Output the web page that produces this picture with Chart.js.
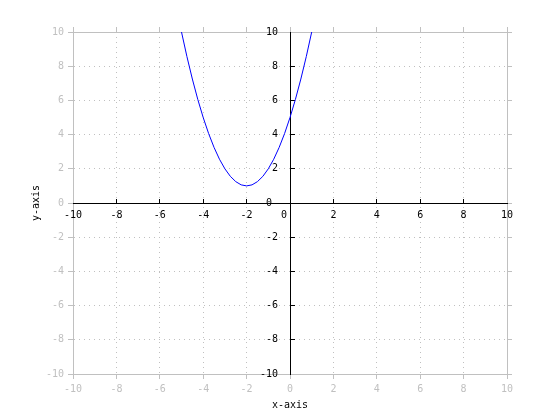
<!DOCTYPE html>
<html>
<head>
<meta charset="utf-8">
<script src="https://cdn.jsdelivr.net/npm/chart.js@4"></script>
<style>
  html, body { margin: 0; padding: 0; background: #fff; }
  #wrap { width: 560px; height: 420px; }
</style>
</head>
<body>
<div id="wrap"><canvas id="curveChart"></canvas></div>
<script>
// Values
const xValues = [-5, -4.75, -4.5, -4.25, -4, -3.75, -3.5, -3.25, -3, -2.75, -2.5, -2.25, -2,
                 -1.75, -1.5, -1.25, -1, -0.75, -0.5, -0.25, 0, 0.25, 0.5, 0.75, 1];
const yValues = [10, 8.56, 7.25, 6.06, 5, 4.06, 3.25, 2.56, 2, 1.56, 1.25, 1.06, 1,
                 1.06, 1.25, 1.56, 2, 2.56, 3.25, 4.06, 5, 6.06, 7.25, 8.56, 10];
const axisMin = -10;
const axisMax = 10;
const tickStep = 2;
const xTitle = "x-axis";
const yTitle = "y-axis";

const grey = "#c0c0c0";
const font = { family: "DejaVu Sans Mono", size: 10 };

const points = xValues.map((x, i) => ({ x: x, y: yValues[i] }));

// Grey frame axes (outside ticks) and black zero axes (inside ticks)
function frameAxis(axis, position, size, extra) {
    return Object.assign({
        type: "linear",
        axis: axis,
        position: position,
        min: axisMin,
        max: axisMax,
        ticks: { stepSize: tickStep, display: false },
        grid: { drawOnChartArea: false, drawTicks: true, tickLength: 5, color: grey },
        border: { display: true, color: grey, width: 1 },
        afterFit: scale => {
            if (scale.isHorizontal()) scale.height = size; else scale.width = size;
        }
    }, extra);
}

new Chart(document.getElementById("curveChart").getContext("2d"), {
    type: "scatter",
    data: {
        datasets: [{
            data: points,
            showLine: true,
            borderColor: "#0000ff",
            borderWidth: 1,
            pointRadius: 0,
            tension: 0,
            xAxisID: "x",
            yAxisID: "y"
        }]
    },
    options: {
        responsive: true,
        maintainAspectRatio: false,
        animation: false,
        layout: { padding: 0 },
        plugins: { legend: { display: false }, tooltip: { enabled: false } },
        scales: {
            x: frameAxis("x", "bottom", 46, {
                ticks: { stepSize: tickStep, color: grey, font: font, padding: 4, maxRotation: 0 },
                grid: { color: grey, tickLength: 5, tickColor: grey },
                border: { display: true, color: grey, width: 1, dash: [1, 4] },
                title: { display: true, text: xTitle, color: "#000", font: font, padding: { top: 0, bottom: 9 } }
            }),
            y: frameAxis("y", "left", 73, {
                ticks: { stepSize: tickStep, color: grey, font: font, padding: 4 },
                grid: { color: grey, tickLength: 5, tickColor: grey },
                border: { display: true, color: grey, width: 1, dash: [1, 4] },
                title: { display: true, text: yTitle, color: "#000", font: font, padding: { top: 30, bottom: 0 } }
            }),
            xTop: frameAxis("x", "top", 32),
            yRight: frameAxis("y", "right", 53),
            xZero: {
                type: "linear",
                axis: "x",
                position: { y: 0 },
                min: axisMin,
                max: axisMax,
                // the 0 label is nudged left off the vertical axis
                ticks: { stepSize: tickStep, color: "#000", font: font, padding: 11, maxRotation: 0,
                         callback: v => v === 0 ? "0  " : String(v) },
                grid: { drawOnChartArea: false, tickLength: -5, tickColor: "#000" },
                border: { color: "#000", width: 1 }
            },
            yZero: {
                type: "linear",
                axis: "y",
                position: { x: 0 },
                min: axisMin,
                max: axisMax,
                // labels of a value-positioned y axis sit right on the line, so pad with spaces
                ticks: { stepSize: tickStep, color: "#000", font: font,
                         callback: v => v === 0 ? "0   " : v + "  " },
                grid: { drawOnChartArea: false, tickLength: -5, tickColor: "#000" },
                border: { color: "#000", width: 1 }
            }
        }
    }
});
</script>
</body>
</html>
